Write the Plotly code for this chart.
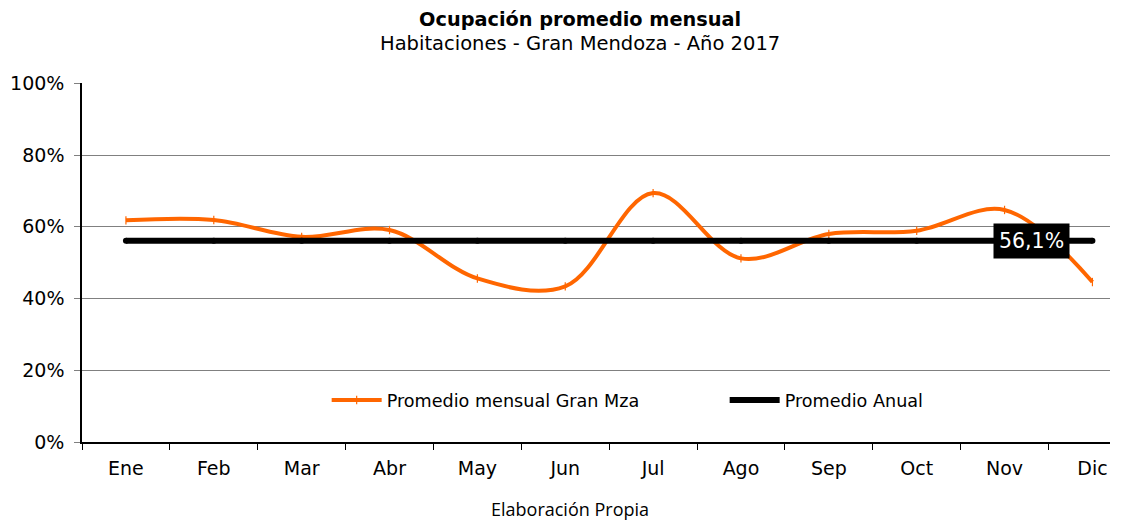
import plotly.graph_objects as go

months = ["Ene", "Feb", "Mar", "Abr", "May", "Jun", "Jul", "Ago", "Sep", "Oct", "Nov", "Dic"]
monthly = [0.618, 0.619, 0.572, 0.591, 0.456, 0.434, 0.694, 0.512, 0.580, 0.589, 0.647, 0.446]
annual_value = 0.561
annual = [annual_value] * len(months)
y_ticks = [0, 0.2, 0.4, 0.6, 0.8, 1.0]
y_labels = ["0%", "20%", "40%", "60%", "80%", "100%"]

ORANGE = "#FF6600"
FONT = "DejaVu Sans"
fig = go.Figure()
fig.add_trace(go.Scatter(
    x=months, y=monthly, name="Promedio mensual Gran Mza", legendwidth=333,
    mode="lines+markers", line=dict(color=ORANGE, width=4, shape="spline", smoothing=1.0),
    marker=dict(symbol="line-ns", size=6, color=ORANGE, line=dict(color=ORANGE, width=1.2)),
))
fig.add_trace(go.Scatter(
    x=months, y=annual, name="Promedio Anual", legendwidth=150,
    mode="lines+markers", line=dict(color="black", width=6),
    marker=dict(symbol="circle", size=6, color="black"),
))

fig.add_annotation(
    x=len(months) - 1.69, y=annual_value, xref="x", yref="y",
    text="56,1%", showarrow=False, bgcolor="black",
    font=dict(family=FONT, size=20.5, color="white"),
    borderpad=5,
)

fig.add_annotation(
    x=0.484, y=1.111, xref="paper", yref="paper", yanchor="middle",
    text="Habitaciones - Gran Mendoza - Año 2017", showarrow=False,
    font=dict(family=FONT, size=19.5, color="black"),
)

fig.add_annotation(
    x=0.475, y=-0.188, xref="paper", yref="paper", yanchor="middle",
    text="Elaboración Propia", showarrow=False,
    font=dict(family="Open Sans", size=18, color="black"),
)

fig.update_layout(
    width=1122, height=520,
    margin=dict(l=82, r=12, t=83, b=78),
    paper_bgcolor="white", plot_bgcolor="white",
    font=dict(family=FONT, color="black"),
    title=dict(
        text="<b>Ocupación promedio mensual</b>",
        x=0.517, xanchor="center", xref="container",
        y=1 - 19 / 520, yanchor="middle", yref="container",
        font=dict(family=FONT, size=19.3, color="black"),
    ),
    showlegend=True,
    legend=dict(
        orientation="h", x=0.238, xanchor="left", y=0.117, yanchor="middle",
        xref="paper", yref="paper", bgcolor="rgba(0,0,0,0)",
        font=dict(family=FONT, size=17.6, color="black"),
        itemwidth=50, entrywidthmode="pixels",
    ),
    xaxis=dict(
        type="category", tickson="boundaries", ticks="outside", ticklen=6,
        tickcolor="black", showline=True, linecolor="black", linewidth=1.5,
        showgrid=False, tickfont=dict(family=FONT, size=19, color="black"),
        ticklabelstandoff=8, automargin=False,
        range=[-0.5, len(months) - 0.8],
    ),
    yaxis=dict(
        range=[0, 1.001], tickvals=y_ticks, ticktext=y_labels, ticks="outside", ticklen=6,
        tickcolor="#808080", showline=True, linecolor="black", linewidth=1.5,
        showgrid=True, gridcolor="#808080", gridwidth=1, zeroline=False,
        tickfont=dict(family=FONT, size=19, color="black"),
        ticklabelstandoff=6, automargin=False,
    ),
)

fig.write_html("out.html", config={"displayModeBar": False},
               post_script="document.body.style.margin='0px';")
